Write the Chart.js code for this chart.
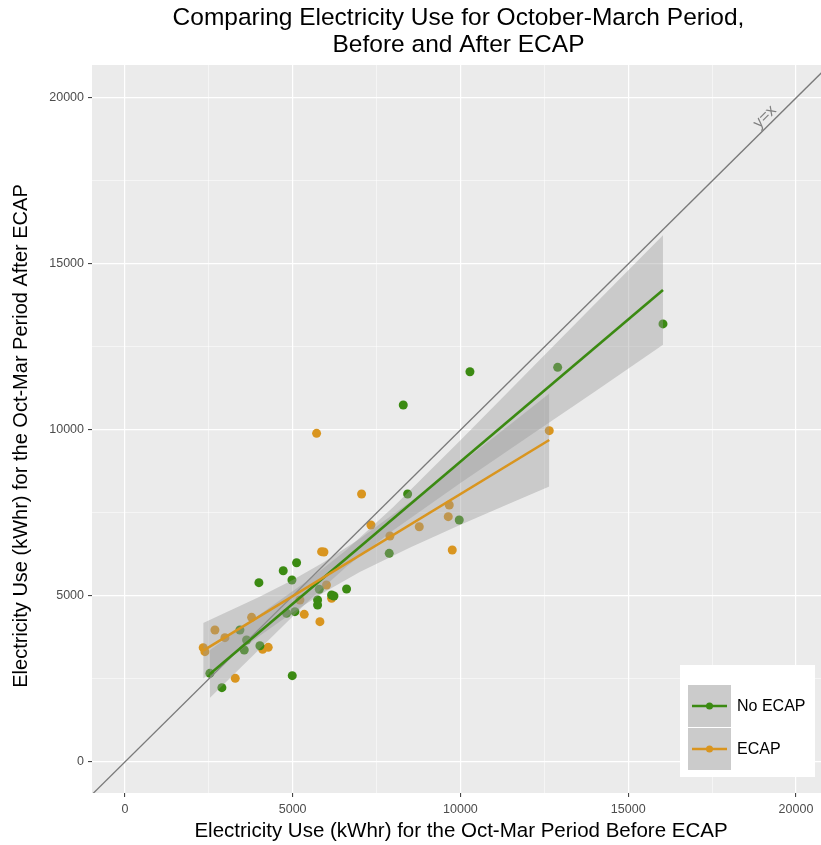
<!DOCTYPE html>
<html>
<head>
<meta charset="utf-8">
<script src="https://cdn.jsdelivr.net/npm/chart.js@4/dist/chart.umd.min.js"></script>
<style>
  html, body { margin: 0; padding: 0; background: #ffffff; }
  #wrap { width: 821px; height: 845px; position: relative; }
</style>
</head>
<body>
<div id="wrap"><canvas id="c" width="821" height="845"></canvas></div>
<script>
// ---------- data ----------
const chartTitle = ["Comparing Electricity Use for October-March Period,", "Before and After ECAP"];
const xTitle = "Electricity Use (kWhr) for the Oct-Mar Period Before ECAP";
const yTitle = "Electricity Use (kWhr) for the Oct-Mar Period After ECAP";
const seriesNames = ["No ECAP", "ECAP"];

const majorTicks = [0, 5000, 10000, 15000, 20000];
const minorTicks = [2500, 7500, 12500, 17500];

const noEcapX = [2533, 2891, 3428, 3557, 3627, 3994, 4024, 4719, 4818, 4978, 4988, 5067, 5117, 5743, 5743, 5793, 6160, 6230, 6607, 7878, 8296, 8426, 9964, 10283, 12897, 16036];
const noEcapY = [2671, 2238, 3976, 3373, 3675, 5401, 3503, 5762, 4479, 5482, 2600, 4528, 6003, 4880, 4730, 5200, 5030, 5000, 5211, 6285, 10753, 8072, 7289, 11756, 11888, 13196];

const ecapX = [2334, 2385, 2683, 2981, 3289, 3776, 4105, 4272, 5216, 5345, 5713, 5812, 5862, 5932, 6008, 6160, 7054, 7332, 7898, 8773, 9637, 9667, 9756, 12647];
const ecapY = [3443, 3323, 3976, 3744, 2520, 4357, 3394, 3454, 4880, 4448, 9900, 4226, 6335, 6325, 5331, 4930, 8072, 7138, 6807, 7087, 7389, 7741, 6386, 9980];

// fitted lines (end points)
const noEcapFitX = [2533, 16036];
const noEcapFitY = [2651, 14217];
const ecapFitX = [2334, 12647];
const ecapFitY = [3352, 9699];

// confidence bands
const noEcapBandX  = [2533, 4000, 5500, 6600, 8000, 10000, 12000, 14000, 16036];
const noEcapBandHi = [3371, 4426, 5508, 6384, 7683, 9691, 11736, 13791, 15867];
const noEcapBandLo = [1931, 3388, 4876, 5884, 6983, 8401, 9782, 11153, 12567];
const ecapBandX  = [2334, 4000, 5000, 5900, 7000, 8500, 10000, 11500, 12647];
const ecapBandHi = [4187, 4966, 5481, 6002, 6727, 7830, 8994, 10182, 11099];
const ecapBandLo = [2517, 3788, 4503, 5090, 5719, 6462, 7144, 7804, 8299];

// reference line y = x
const refLineX = [-1000, 21000];
const refLabel = "y=x";
const refLabelAt = 19250;

// ---------- styles ----------
const GREEN = '#3b8a12';
const ORANGE = '#d9951f';
const BAND = 'rgba(153,153,153,0.4)';
const FONT = "'Liberation Sans', Arial, Helvetica, sans-serif";
const zip = (xs, ys) => xs.map((x, i) => ({ x: x, y: ys[i] }));

const allTicks = majorTicks.concat(minorTicks).sort((a, b) => a - b);
const isMajor = v => majorTicks.indexOf(v) !== -1;

function axisCommon() {
  return {
    type: 'linear',
    afterBuildTicks: s => { s.ticks = allTicks.map(v => ({ value: v })); },
    border: { display: false },
    grid: {
      color: c => isMajor(c.tick.value) ? '#ffffff' : 'rgba(255,255,255,0.85)',
      lineWidth: c => isMajor(c.tick.value) ? 1.2 : 0.6,
      tickColor: c => isMajor(c.tick.value) ? '#333333' : 'rgba(0,0,0,0)',
      tickLength: 4,
      tickWidth: 1,
      drawTicks: true
    },
    ticks: {
      callback: v => isMajor(v) ? String(v) : '',
      color: '#4d4d4d',
      font: { family: FONT, size: 12.5 },
      autoSkip: false,
      maxRotation: 0
    }
  };
}

const xAxis = Object.assign(axisCommon(), { min: -980, max: 20745 });
xAxis.afterFit = s => { s.height = 52; s.paddingLeft = 0; s.paddingRight = 0; };
xAxis.ticks.padding = 5;
const yAxis = Object.assign(axisCommon(), { min: -934, max: 20994 });
yAxis.afterFit = s => { s.width = 92; s.paddingTop = 0; s.paddingBottom = 0; };
yAxis.ticks.padding = 4;

const panelPlugin = {
  id: 'panel',
  beforeDraw(chart) {
    const a = chart.chartArea, ctx = chart.ctx;
    ctx.save();
    ctx.fillStyle = '#ebebeb';
    ctx.fillRect(a.left, a.top, a.right - a.left, a.bottom - a.top);
    ctx.restore();
  },
  afterDraw(chart) {
    const ctx = chart.ctx, a = chart.chartArea;
    const xs = chart.scales.x, ys = chart.scales.y;
    ctx.save();
    // title
    ctx.fillStyle = '#000000';
    ctx.font = '24.5px ' + FONT;
    ctx.textAlign = 'center';
    ctx.textBaseline = 'middle';
    const cx = (a.left + a.right) / 2;
    ctx.fillText(chartTitle[0], cx + 2, 18);
    ctx.fillText(chartTitle[1], cx + 2, 45);
    // x axis title
    ctx.font = '20.5px ' + FONT;
    ctx.fillText(xTitle, 461, 831);
    // y axis title
    ctx.save();
    ctx.font = '20px ' + FONT;
    ctx.translate(21, 436);
    ctx.rotate(-Math.PI / 2);
    ctx.fillText(yTitle, 0, 0);
    ctx.restore();
    // y=x label
    const lx = xs.getPixelForValue(refLabelAt), ly = ys.getPixelForValue(refLabelAt);
    ctx.save();
    ctx.translate(lx - 6, ly - 6);
    ctx.rotate(-Math.PI / 4);
    ctx.fillStyle = '#7f7f7f';
    ctx.font = '16px ' + FONT;
    ctx.fillText(refLabel, 0, 0);
    ctx.restore();
    // legend
    const bx = 680, by = 665, bw = 135, bh = 112;
    ctx.fillStyle = '#ffffff';
    ctx.fillRect(bx, by, bw, bh);
    const keys = [[GREEN, 685], [ORANGE, 728]];
    keys.forEach((k, i) => {
      ctx.fillStyle = '#cbcbcb';
      ctx.fillRect(688, k[1], 43, 42);
      const my = k[1] + 21;
      ctx.strokeStyle = k[0];
      ctx.lineWidth = 2.5;
      ctx.beginPath();
      ctx.moveTo(692, my);
      ctx.lineTo(727, my);
      ctx.stroke();
      ctx.fillStyle = k[0];
      ctx.beginPath();
      ctx.arc(709.5, my, 3.5, 0, Math.PI * 2);
      ctx.fill();
      ctx.fillStyle = '#000000';
      ctx.font = '16px ' + FONT;
      ctx.textAlign = 'left';
      ctx.fillText(seriesNames[i], 737, my + 1);
      ctx.textAlign = 'center';
    });
    ctx.restore();
  }
};

Chart.defaults.font.family = FONT;

new Chart(document.getElementById('c'), {
  type: 'scatter',
  data: {
    datasets: [
      { label: 'ref', data: zip(refLineX, refLineX), showLine: true, borderColor: '#7a7a7a', borderWidth: 1.3, pointRadius: 0, order: 4 },
      { label: seriesNames[0], data: zip(noEcapX, noEcapY), backgroundColor: GREEN, borderWidth: 0, pointRadius: 4.5, order: 5 },
      { label: seriesNames[1], data: zip(ecapX, ecapY), backgroundColor: ORANGE, borderWidth: 0, pointRadius: 4.5, order: 6 },
      { label: 'nb hi', data: zip(noEcapBandX, noEcapBandHi), showLine: true, borderWidth: 0, borderColor: 'rgba(0,0,0,0)', pointRadius: 0, fill: '+1', backgroundColor: BAND, order: 3 },
      { label: 'nb lo', data: zip(noEcapBandX, noEcapBandLo), showLine: true, borderWidth: 0, borderColor: 'rgba(0,0,0,0)', pointRadius: 0, fill: false, order: 3 },
      { label: 'eb hi', data: zip(ecapBandX, ecapBandHi), showLine: true, borderWidth: 0, borderColor: 'rgba(0,0,0,0)', pointRadius: 0, fill: '+1', backgroundColor: BAND, order: 2 },
      { label: 'eb lo', data: zip(ecapBandX, ecapBandLo), showLine: true, borderWidth: 0, borderColor: 'rgba(0,0,0,0)', pointRadius: 0, fill: false, order: 2 },
      { label: 'fit no', data: zip(noEcapFitX, noEcapFitY), showLine: true, borderColor: GREEN, borderWidth: 2.6, pointRadius: 0, order: 1 },
      { label: 'fit ecap', data: zip(ecapFitX, ecapFitY), showLine: true, borderColor: ORANGE, borderWidth: 2.6, pointRadius: 0, order: 0 }
    ]
  },
  options: {
    responsive: false,
    animation: false,
    layout: { autoPadding: false, padding: { top: 65, left: 0, right: 0, bottom: 0 } },
    plugins: { legend: { display: false }, tooltip: { enabled: false }, title: { display: false } },
    scales: { x: xAxis, y: yAxis }
  },
  plugins: [panelPlugin]
});
</script>
</body>
</html>
